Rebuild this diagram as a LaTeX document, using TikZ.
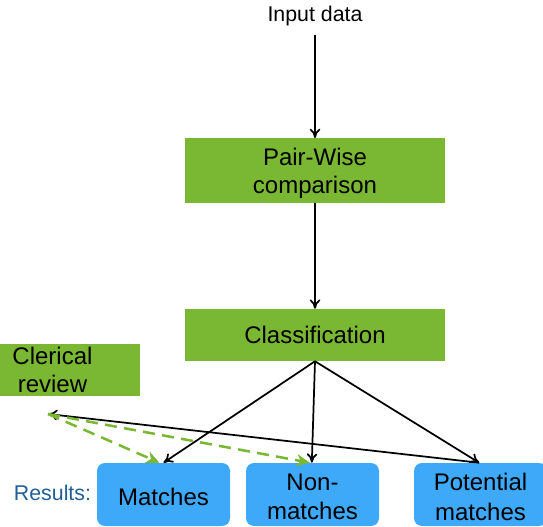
\documentclass[tikz,border=0pt]{standalone}
\usepackage{fontspec}
\setmainfont{Liberation Sans}
\usetikzlibrary{arrows.meta}
\definecolor{boxgreen}{HTML}{7AB833}
\definecolor{boxblue}{HTML}{3DA9F8}
\definecolor{resblue}{HTML}{1F5F96}
\begin{document}
\begin{tikzpicture}[x=0.75pt,y=-0.75pt,
  greenbox/.style={fill=boxgreen,inner sep=0pt,align=center,font=\fontsize{18}{21}\selectfont},
  bluebox/.style={fill=boxblue,rounded corners=6pt,inner sep=0pt,align=center,minimum width=99.75pt,minimum height=47.25pt,font=\fontsize{18}{22}\selectfont},
  arr/.style={-{To[length=7pt,width=8pt]},line width=1.3pt,black},
  garr/.style={-{Stealth[length=10pt,width=9pt,inset=3pt]},line width=1.9pt,boxgreen,dash pattern=on 9pt off 5.5pt}]
\useasboundingbox (0,0) rectangle (543,527);
\node[font=\fontsize{16}{19}\selectfont] (input) at (315,16) {Input data};
\fill[boxgreen] (185,138) rectangle (445,203);
\node[greenbox,minimum width=195pt,minimum height=48.75pt,fill=none] (pair) at (315,173) {Pair-Wise\\comparison};
\node[greenbox,minimum width=195pt,minimum height=39pt] (class) at (315,335) {Classification};
\fill[boxgreen] (0,344) rectangle (140,396);
\node[align=center,font=\fontsize{18}{21}\selectfont] (cler) at (52.5,370) {Clerical\\review};
\coordinate (cpt) at (48,414);
\node[bluebox] (match) at (163.5,494.5) {};
\node[font=\fontsize{18}{22}\selectfont] (matchtxt) at (163.5,497) {Matches};
\node[bluebox] (non) at (312.5,494.5) {};
\node[align=center,font=\fontsize{18}{22}\selectfont] (nontxt) at (312.5,497) {Non-\\matches};
\node[bluebox] (pot) at (480.5,494.5) {};
\node[align=center,font=\fontsize{18}{22}\selectfont] (pottxt) at (480.5,497) {Potential\\matches};
\node[text=resblue,font=\fontsize{16}{19}\selectfont] (res) at (52.5,493) {Results:};
\draw[arr] (315,35) -- (315,138);
\draw[arr] (315,203) -- (class.north);
\coordinate (cs) at (class.south);
\draw[arr] (cs) -- (match.north);
\draw[arr] (cs) -- ([xshift=-0.5pt]non.north);
\draw[arr] (cs) -- ([xshift=-1pt]pot.north);
\draw[arr] ([xshift=-1pt]pot.north) -- (cpt);
\draw[garr] (cpt) -- ([xshift=-3pt]match.north);
\draw[garr] (cpt) -- ([xshift=-2pt]non.north);
\end{tikzpicture}
\end{document}
